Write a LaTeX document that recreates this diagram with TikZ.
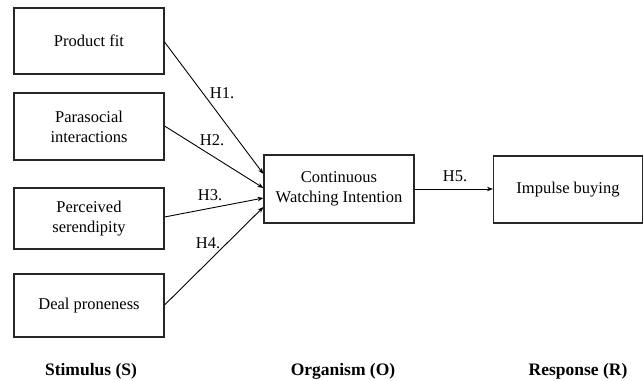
\documentclass[tikz,border=0pt]{standalone}
\usepackage{fontspec}
\setmainfont{Liberation Serif}
\usetikzlibrary{arrows.meta,calc}
\begin{document}
\begin{tikzpicture}[x=1pt,y=-1pt,
  box/.style={draw=black!85,line width=1.1pt,inner sep=0pt,align=center,
    font=\fontsize{16.5}{20}\selectfont},
  lab/.style={inner sep=0pt,font=\fontsize{16.5}{20}\selectfont},
  captxt/.style={inner sep=0pt,font=\fontsize{17.5}{20}\selectfont\bfseries},
  conn/.style={line width=0.9pt,-{Stealth[length=6pt,width=4.5pt]}}]
\useasboundingbox (0,0) rectangle (644,380);
\node[box,minimum width=150pt,minimum height=66pt] (pf) at (89,41) {Product fit};
\node[box,minimum width=150pt,minimum height=67pt] (ps) at (89,126.5) {Parasocial\\interactions};
\node[box,minimum width=150pt,minimum height=61pt] (se) at (89,218.5) {Perceived\\serendipity};
\node[box,minimum width=150pt,minimum height=63pt] (dp) at (89,305.5) {Deal proneness};
\node[box,minimum width=150pt,minimum height=68pt] (cw) at (339,189) {Continuous\\Watching Intention};
\node[box,minimum width=149pt,minimum height=67pt] (ib) at (568,189.5) {Impulse buying};
\coordinate (s1) at (pf.east |- 0,42);
\coordinate (s2) at (ps.east |- 0,126);
\coordinate (s3) at (se.east |- 0,217);
\coordinate (s4) at (dp.east |- 0,305);
\coordinate (t1) at (cw.west |- 0,174);
\coordinate (t2) at (cw.west |- 0,188);
\coordinate (t3) at (cw.west |- 0,198);
\coordinate (t4) at (cw.west |- 0,207);
\draw[conn] (s1) -- (t1);
\draw[conn] (s2) -- (t2);
\draw[conn] (s3) -- (t3);
\draw[conn] (s4) -- (t4);
\draw[conn] (cw.east) -- (ib.west |- cw.east);
\node[lab] (h1) at (222,93) {H1.};
\node[lab] (h2) at (212,140) {H2.};
\node[lab] (h3) at (210,195) {H3.};
\node[lab] (h4) at (208,243) {H4.};
\node[lab] (h5) at (455,176) {H5.};
\node[captxt] (cs) at (91,371) {Stimulus (S)};
\node[captxt] (co) at (343,371) {Organism (O)};
\node[captxt] (cr) at (578,371) {Response (R)};
\end{tikzpicture}
\end{document}
